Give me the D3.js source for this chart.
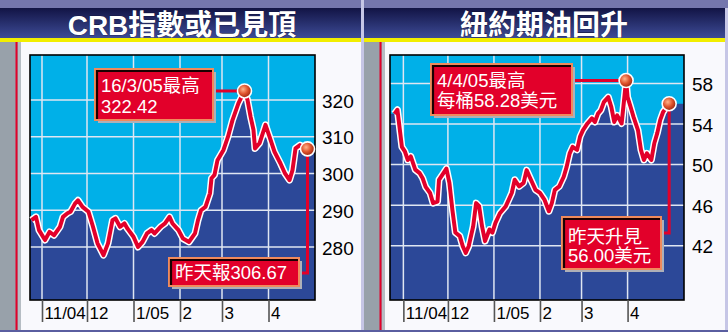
<!DOCTYPE html>
<html>
<head>
<meta charset="utf-8">
<script src="https://cdn.jsdelivr.net/npm/d3@7"></script>
<style>
  body { margin: 0; background: #fff; }
  svg { display: block; }
  text { font-family: "Liberation Sans", Arial, "Noto Sans CJK TC", sans-serif; }
</style>
</head>
<body>
<div id="chart"></div>
<script>
// CRB index
const crbDates = ["2004-10-25","2004-10-28","2004-10-30","2004-11-03","2004-11-06","2004-11-09","2004-11-13","2004-11-15",
  "2004-11-18","2004-11-20","2004-11-23","2004-11-25","2004-11-28","2004-12-02","2004-12-05","2004-12-08","2004-12-12",
  "2004-12-15","2004-12-18","2004-12-20","2004-12-23","2004-12-26","2004-12-28","2005-01-01","2005-01-04","2005-01-07",
  "2005-01-10","2005-01-13","2005-01-15","2005-01-19","2005-01-22","2005-01-25","2005-01-27","2005-01-31","2005-02-03",
  "2005-02-07","2005-02-11","2005-02-13","2005-02-15","2005-02-18","2005-02-21","2005-02-22","2005-02-24","2005-02-26",
  "2005-03-02","2005-03-05","2005-03-08","2005-03-12","2005-03-16","2005-03-18","2005-03-20","2005-03-22","2005-03-23",
  "2005-03-26","2005-03-30","2005-04-02","2005-04-05","2005-04-09","2005-04-12","2005-04-15","2005-04-17","2005-04-19",
  "2005-04-22","2005-04-25","2005-04-27"];
const crbValues = [287.3,288.2,284.6,281.9,284.1,283.2,285.5,288.2,
  289.2,289.6,291.8,292.7,290.9,289.6,285.5,281.0,277.8,
  281.0,287.3,287.8,285.5,286.4,285.0,282.8,280.0,281.4,
  283.7,284.6,283.7,285.5,286.4,288.2,286.4,284.6,282.3,
  281.4,283.7,287.3,290.0,290.9,294.6,298.7,299.6,303.6,
  306.4,310.0,314.5,319.1,322.42,320.0,315.5,311.8,306.8,
  308.2,313.2,309.6,305.9,302.7,300.0,298.2,300.9,306.8,
  307.7,307.0,306.67];

// NYMEX crude oil (US$ per barrel)
const oilDates = ["2004-10-26","2004-10-28","2004-10-31","2004-11-02","2004-11-04","2004-11-06","2004-11-09","2004-11-12",
  "2004-11-14","2004-11-16","2004-11-19","2004-11-21","2004-11-24","2004-11-25","2004-11-28","2004-11-30","2004-12-02",
  "2004-12-04","2004-12-06","2004-12-09","2004-12-11","2004-12-13","2004-12-15","2004-12-18","2004-12-20","2004-12-22",
  "2004-12-24","2004-12-26","2004-12-29","2004-12-31","2005-01-02","2005-01-05","2005-01-09","2005-01-11","2005-01-13",
  "2005-01-15","2005-01-18","2005-01-21","2005-01-23","2005-01-25","2005-01-29","2005-02-01","2005-02-04","2005-02-07",
  "2005-02-09","2005-02-11","2005-02-14","2005-02-17","2005-02-19","2005-02-21","2005-02-23","2005-02-26","2005-02-28",
  "2005-03-02","2005-03-05","2005-03-08","2005-03-10","2005-03-12","2005-03-14","2005-03-16","2005-03-19","2005-03-21",
  "2005-03-23","2005-03-25","2005-03-28","2005-03-31","2005-04-01","2005-04-03","2005-04-05","2005-04-08","2005-04-10",
  "2005-04-12","2005-04-14","2005-04-17","2005-04-19","2005-04-21","2005-04-23","2005-04-25","2005-04-29"];
const oilValues = [55.0,55.4,51.75,51.3,50.45,50.8,49.5,49.15,
  48.65,47.8,47.2,46.2,46.35,48.5,49.15,49.6,48.2,
  45.55,43.3,42.95,41.95,41.3,41.95,43.9,46.2,45.9,
  43.9,42.45,43.6,43.3,44.25,45.2,45.9,46.55,47.2,
  48.5,47.85,48.2,49.45,48.8,47.5,47.2,46.55,45.4,
  46.2,47.5,47.85,48.8,49.8,51.1,51.75,51.45,52.75,
  53.4,54.05,54.55,54.2,55.0,55.35,56.15,56.65,55.7,
  54.2,54.85,54.05,58.28,56.65,55.7,54.7,53.4,51.45,
  50.45,51.1,50.45,52.1,53.1,54.4,55.2,56.0];

const monthTicks = ["2004-11-01","2004-12-01","2005-01-01","2005-02-01","2005-03-01","2005-04-01"];
const monthLabels = ["11/04","12","1/05","2","3","4"];
const crbTicks = [280, 290, 300, 310, 320];
const oilTicks = [42, 46, 50, 54, 58];
const titles = ["CRB指數或已見頂", "紐約期油回升"];
const crbPeakText = ["16/3/05最高", "322.42"];
const crbLastText = ["昨天報306.67"];
const oilPeakText = ["4/4/05最高", "每桶58.28美元"];
const oilLastText = ["昨天升見", "56.00美元"];

const W = 728, H = 332;
const parse = d3.timeParse("%Y-%m-%d");
const RED = "#e2002a", CYAN = "#00b0e8", NAVY = "#2c4898";

const svg = d3.select("#chart").append("svg").attr("width", W).attr("height", H);

const defs = svg.append("defs");
const bandGrad = defs.append("linearGradient").attr("id", "band").attr("x1", 0).attr("x2", 0).attr("y1", 0).attr("y2", 1);
bandGrad.append("stop").attr("offset", "0%").attr("stop-color", "#121445");
bandGrad.append("stop").attr("offset", "100%").attr("stop-color", "#3d4b96");
const ball = defs.append("radialGradient").attr("id", "ball").attr("cx", "40%").attr("cy", "38%").attr("r", "60%");
ball.append("stop").attr("offset", "0%").attr("stop-color", "#ffb48a");
ball.append("stop").attr("offset", "55%").attr("stop-color", "#e0552e");
ball.append("stop").attr("offset", "100%").attr("stop-color", "#a02a12");

// frame + title bands
svg.append("rect").attr("width", W).attr("height", H).attr("fill", "#f9f9fd");
svg.append("rect").attr("width", W).attr("height", 8).attr("fill", "#7476ad");
svg.append("rect").attr("y", 8).attr("width", W).attr("height", 30).attr("fill", "url(#band)");
svg.append("rect").attr("y", 38).attr("width", W).attr("height", 4).attr("fill", "#f2ee00");
svg.append("rect").attr("x", 361).attr("y", 0).attr("width", 3).attr("height", H).attr("fill", "#c6c6e6");
svg.append("rect").attr("x", 725).attr("y", 8).attr("width", 3).attr("height", H).attr("fill", "#c6c6e6");
svg.append("rect").attr("y", 330).attr("width", W).attr("height", 2).attr("fill", "#5a5ea0");

function drawPanel(cfg) {
  const g = svg.append("g");
  // side strip
  g.append("rect").attr("x", cfg.left).attr("y", 42).attr("width", 20).attr("height", 288).attr("fill", "#98a1aa");
  g.append("rect").attr("x", cfg.left + 18).attr("y", 42).attr("width", 3).attr("height", 288).attr("fill", "#b6bdc4");
  g.append("rect").attr("x", cfg.left + 15.5).attr("y", 42).attr("width", 2).attr("height", 288).attr("fill", RED);

  // title
  g.append("text").attr("x", cfg.titleX).attr("y", 35).attr("text-anchor", "middle")
    .attr("font-size", 28).attr("font-weight", "bold").attr("fill", "#fff")
    .attr("stroke", "#0a0c30").attr("stroke-width", 0.6).attr("paint-order", "stroke")
    .text(cfg.title);

  const data = cfg.dates.map((d, i) => ({ date: parse(d), value: cfg.values[i] }));
  const x = d3.scaleTime().domain(cfg.xDomain.map(parse)).range([cfg.x0, cfg.x1]);
  const y = d3.scaleLinear().domain(cfg.yDomain).range([cfg.y1, cfg.y0]);

  g.append("rect").attr("x", cfg.x0).attr("y", cfg.y0)
    .attr("width", cfg.x1 - cfg.x0).attr("height", cfg.y1 - cfg.y0).attr("fill", CYAN);

  const area = d3.area().x(d => x(d.date)).y0(cfg.y1).y1(d => y(d.value));
  const areaData = [{ date: x.invert(cfg.x0), value: data[0].value }, ...data,
    { date: x.invert(cfg.x1), value: data[data.length - 1].value }];
  g.append("path").datum(areaData).attr("d", area).attr("fill", NAVY);

  // grid
  const ticks = monthTicks.map(parse);
  g.selectAll(".vg").data(ticks).enter().append("line")
    .attr("x1", d => x(d)).attr("x2", d => x(d)).attr("y1", cfg.y0).attr("y2", cfg.y1)
    .attr("stroke", "#dfe6f2").attr("stroke-width", 1.5);
  g.selectAll(".hg").data(cfg.yTicks).enter().append("line")
    .attr("x1", cfg.x0).attr("x2", cfg.x1).attr("y1", d => y(d)).attr("y2", d => y(d))
    .attr("stroke", "#dfe6f2").attr("stroke-width", 1.5);

  g.append("rect").attr("x", cfg.x0).attr("y", cfg.y0)
    .attr("width", cfg.x1 - cfg.x0).attr("height", cfg.y1 - cfg.y0)
    .attr("fill", "none").attr("stroke", "#000").attr("stroke-width", 1.6);

  // bottom axis: month ticks hang below, labels to the right of each tick
  const xAxis = d3.axisBottom(x).tickValues(ticks).tickSize(22)
    .tickFormat((d, i) => monthLabels[i]);
  const ax = g.append("g").attr("transform", `translate(0,${cfg.y1})`).call(xAxis);
  ax.select(".domain").remove();
  ax.selectAll(".tick line").attr("stroke", "#555").attr("stroke-width", 1.6);
  ax.selectAll(".tick text").attr("x", 2).attr("y", 19).attr("dy", 0)
    .attr("text-anchor", "start").attr("font-size", 17).attr("fill", "#000")
    .attr("font-family", "Liberation Sans, Arial, sans-serif");

  // right value labels
  const yAxis = d3.axisRight(y).tickValues(cfg.yTicks).tickSize(0).tickPadding(cfg.labelPad);
  const ay = g.append("g").attr("transform", `translate(${cfg.x1},0)`).call(yAxis);
  ay.select(".domain").remove();
  ay.selectAll(".tick text").attr("font-size", 19).attr("fill", "#000").attr("dy", "0.38em")
    .attr("font-family", "Liberation Sans, Arial, sans-serif");

  // line with white halo
  const line = d3.line().x(d => x(d.date)).y(d => y(d.value));
  g.append("path").datum(data).attr("d", line).attr("fill", "none")
    .attr("stroke", "#fff").attr("stroke-width", 7).attr("stroke-linejoin", "round");
  g.append("path").datum(data).attr("d", line).attr("fill", "none")
    .attr("stroke", RED).attr("stroke-width", 4).attr("stroke-linejoin", "round");

  const peak = data[d3.maxIndex(data, d => d.value)];
  const last = data[data.length - 1];
  const px = x(peak.date), py = y(peak.value);
  const lx = x(last.date), ly = y(last.value);

  // connectors
  const pb = cfg.peakBox, lb = cfg.lastBox;
  g.append("line").attr("x1", pb.x + pb.w).attr("x2", px).attr("y1", py).attr("y2", py)
    .attr("stroke", RED).attr("stroke-width", 3);
  g.append("path").attr("d", `M${lx},${ly}V${cfg.elbowY}H${lb.x + lb.w}`)
    .attr("fill", "none").attr("stroke", RED).attr("stroke-width", 3);

  callout(g, pb, cfg.peakText);
  callout(g, lb, cfg.lastText);

  [[px, py], [lx, ly]].forEach(([cx, cy]) => {
    g.append("circle").attr("cx", cx).attr("cy", cy).attr("r", 7)
      .attr("fill", "url(#ball)").attr("stroke", "#fff").attr("stroke-width", 1.6);
  });
}

function callout(g, b, lines) {
  g.append("rect").attr("x", b.x + 3).attr("y", b.y + 3).attr("width", b.w).attr("height", b.h).attr("fill", "#aeb0b8");
  g.append("rect").attr("x", b.x).attr("y", b.y).attr("width", b.w).attr("height", b.h)
    .attr("fill", RED).attr("stroke", "#f08a5c").attr("stroke-width", 2);
  g.append("path").attr("d", `M${b.x + 2},${b.y + b.h - 1}V${b.y + 2}H${b.x + b.w - 1}`)
    .attr("fill", "none").attr("stroke", "#1a0000").attr("stroke-width", 2.2);
  lines.forEach((t, i) => {
    g.append("text").attr("x", b.x + 6).attr("y", b.y + b.lead + i * b.step)
      .attr("font-size", 18.5).attr("fill", "#fff").text(t);
  });
}

drawPanel({
  left: 0, title: titles[0], titleX: 182,
  dates: crbDates, values: crbValues,
  xDomain: ["2004-10-24", "2005-05-02"], yDomain: [265.6, 332.2],
  x0: 30, x1: 315, y0: 55, y1: 300, yTicks: crbTicks, labelPad: 7,
  peakText: crbPeakText, lastText: crbLastText,
  peakBox: { x: 95, y: 69, w: 118, h: 51, lead: 22.5, step: 21 },
  lastBox: { x: 169, y: 258, w: 130, h: 28, lead: 21, step: 20 },
  elbowY: 273
});

drawPanel({
  left: 364, title: titles[1], titleX: 544,
  dates: oilDates, values: oilValues,
  xDomain: ["2004-10-23", "2005-05-09"], yDomain: [36.65, 60.8],
  x0: 390, x1: 684, y0: 55, y1: 300, yTicks: oilTicks, labelPad: 8,
  peakText: oilPeakText, lastText: oilLastText,
  peakBox: { x: 431, y: 64, w: 141, h: 51, lead: 22.5, step: 20 },
  lastBox: { x: 562, y: 217, w: 99, h: 52, lead: 25.5, step: 19 },
  elbowY: 233
});
</script>
</body>
</html>
